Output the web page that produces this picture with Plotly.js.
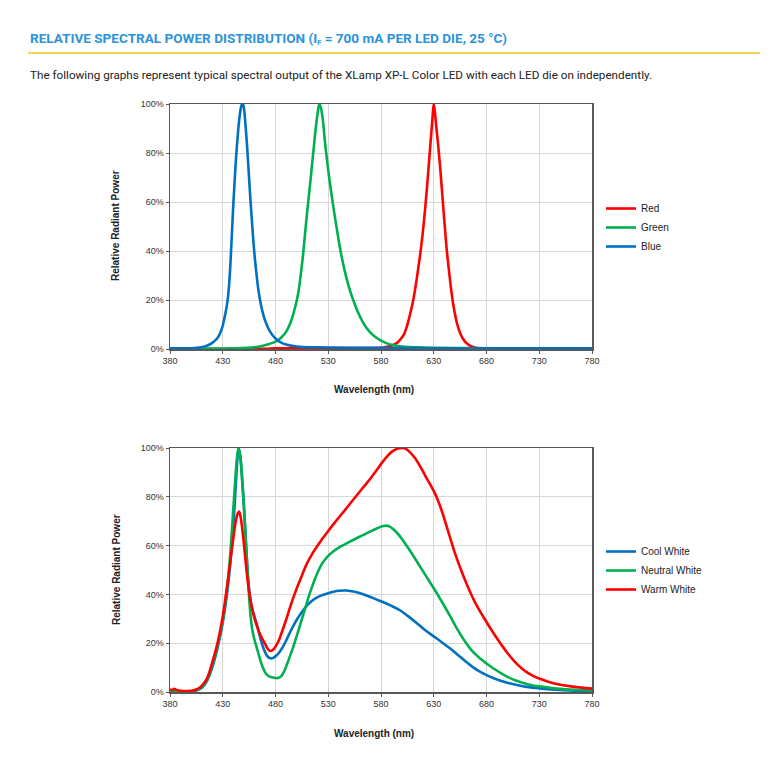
<!DOCTYPE html>
<html>
<head>
<meta charset="utf-8">
<script src="https://cdn.plot.ly/plotly-3.0.1.min.js"></script>
<style>
  html, body { margin: 0; padding: 0; background: #fff; }
  #wrap { position: relative; width: 771px; height: 760px; overflow: hidden; }
  #chart { position: absolute; left: 0; top: 0; width: 771px; height: 760px; }
  .hdr { position: absolute; white-space: nowrap; transform-origin: 0 0; }
  #title { left: 30px; top: 31px; font: bold 13px Roboto, "Liberation Sans", sans-serif; color: #2c93dc; }
  #title sub { font-size: 7px; vertical-align: -2px; }
  #rule { position: absolute; left: 28px; top: 52px; width: 732px; height: 2px; background: #f6d35b; }
  #intro { left: 30px; top: 69px; font: 11px Roboto, "Liberation Sans", sans-serif; color: #222; }
</style>
</head>
<body>
<div id="wrap">
  <div id="chart"></div>
  <div id="title" class="hdr">RELATIVE SPECTRAL POWER DISTRIBUTION (I<sub>F</sub> = 700 mA PER LED DIE, 25 °C)</div>
  <div id="rule"></div>
  <div id="intro" class="hdr">The following graphs represent typical spectral output of the XLamp XP-L Color LED with each LED die on independently.</div>
</div>
<script>
// ---------- Top chart: single colour dies (wavelength nm, relative power %) ----------
const redX   = [380, 470, 480, 560, 580, 585, 590, 593, 596, 599, 602, 604, 606, 608, 610, 612, 614, 616, 618, 620, 622, 624, 626, 628, 629, 630, 631, 632, 634, 636, 638, 640, 642, 644, 646, 648, 650, 652, 655, 658, 662, 666, 670, 680, 700, 780];
const redY   = [0, 0.1, 0.3, 0.4, 0.5, 0.8, 1.3, 2, 2.8, 4.3, 6.2, 8.5, 11.5, 15, 18.8, 23.5, 29, 35, 41.5, 49, 58, 68, 79, 90, 95.5, 100, 97, 92.5, 84, 74.5, 63.5, 52.5, 42, 33.5, 26, 19.5, 14.5, 10.5, 6.5, 4, 2, 1, 0.5, 0.2, 0.05, 0];

const greenX = [380, 440, 460, 470, 475, 480, 485, 490, 494, 497, 500, 502, 504, 506, 508, 510, 512, 514, 516, 518, 520, 521.5, 523, 525, 527, 529, 531, 533, 535, 537, 539, 541, 543, 545, 548, 551, 554, 558, 562, 566, 570, 575, 580, 585, 590, 600, 620, 650, 700, 780];
const greenY = [0.2, 0.3, 0.7, 1.5, 2.2, 3, 4.5, 7, 10.5, 14.5, 19.5, 24, 30.5, 38, 47, 56, 64, 72.5, 81, 89.5, 96.5, 100, 98.5, 93, 84, 76.5, 69.5, 63.5, 57.5, 52, 46.7, 41.5, 37, 33, 27.8, 23.3, 19.6, 15.2, 11.6, 8.8, 6.7, 4.8, 3.4, 2.4, 1.7, 1, 0.6, 0.4, 0.3, 0.2];

const blueX  = [380, 400, 410, 415, 420, 425, 428, 430, 432, 434, 436, 438, 440, 442, 444, 446, 448, 449, 450, 452, 454, 456, 458, 460, 462, 464, 466, 468, 470, 475, 480, 485, 490, 500, 520, 560, 600, 700, 780];
const blueY  = [0.3, 0.3, 0.7, 1.3, 2.5, 4.5, 7, 9.5, 13.5, 18, 26, 41, 59, 74, 86, 95, 99.7, 100, 98.5, 89, 76.5, 62.5, 50, 39, 30.5, 23.5, 18.5, 14.7, 11.8, 7, 4.3, 2.7, 1.8, 1, 0.7, 0.5, 0.4, 0.3, 0.3];

// ---------- Bottom chart: white LEDs ----------
const coolX  = [380, 395, 400, 405, 410, 415, 420, 425, 430, 434, 437, 440, 442, 443.5, 445, 446.5, 448, 450, 452, 454, 456, 458, 460, 463, 466, 469, 472, 475, 478, 481, 484, 487, 490, 495, 500, 505, 510, 515, 520, 525, 530, 535, 540, 547, 555, 563, 570, 580, 590, 598, 605, 614, 622, 630, 637, 645, 652, 660, 667, 675, 680, 690, 699, 710, 720, 730, 750, 780];
const coolY  = [0.1, 0.1, 0.2, 0.6, 1.6, 4.5, 10, 18, 28.5, 40, 52, 68, 82, 93, 100, 97, 90, 77, 61, 47, 38.5, 34, 31, 26.5, 21.5, 17.5, 14.8, 13.8, 14, 15, 16.5, 18.5, 21, 25.5, 29.5, 32.8, 35.5, 37.5, 38.9, 39.8, 40.5, 41.1, 41.5, 41.6, 41.1, 40.1, 38.9, 37.2, 35.3, 33.5, 31.3, 28.2, 25.3, 22.8, 20.6, 18, 15.5, 12.6, 10.2, 8, 6.9, 5.1, 3.9, 2.8, 2, 1.5, 0.8, 0.3];

const neutralX = [380, 400, 405, 410, 415, 420, 425, 430, 434, 437, 440, 442, 443.5, 445, 446.5, 448, 450, 452, 454, 456, 458, 460, 462, 465, 468, 471, 474, 478, 482, 485, 488, 491, 494, 497, 500, 503, 506, 509, 512, 515, 518, 521, 524, 527, 530, 535, 540, 547, 555, 563, 570, 577, 582, 585, 588, 592, 598, 605, 614, 622, 630, 637, 645, 652, 660, 667, 674, 680, 690, 699, 707, 715, 722, 730, 740, 750, 760, 770, 780];
const neutralY = [0.2, 0.3, 0.8, 2, 5, 11, 19, 29, 42, 56, 75, 88, 96, 100, 97, 89, 76, 61, 46, 33, 25.5, 21.5, 18.5, 14, 10, 7.5, 6.4, 5.9, 5.7, 6.3, 8.3, 11.5, 15, 18.7, 22.8, 27, 31.3, 35.5, 39.8, 43.5, 47, 50, 52.5, 54.3, 55.8, 57.7, 59.2, 60.8, 62.6, 64.3, 65.8, 67.2, 68, 68.2, 67.9, 66.6, 63.8, 59.5, 53.5, 48, 42.5, 37.5, 31.5, 26, 20.5, 16.5, 13.7, 11.7, 8.7, 6.4, 4.8, 3.7, 2.9, 2.3, 1.7, 1.3, 1, 0.8, 0.6];

const warmX  = [380, 382, 384, 386, 388, 390, 395, 400, 405, 410, 415, 420, 425, 430, 434, 437, 440, 442, 444, 445.5, 447, 449, 451, 453, 455, 457, 459, 462, 466, 470, 473, 475.5, 478, 480, 483, 486, 490, 494, 498, 502, 506, 510, 514, 518, 522, 526, 530, 535, 540, 547, 555, 563, 570, 576, 581, 586, 591, 596, 600, 604, 608, 612, 616, 620, 624, 628, 631, 634, 637, 640, 643, 646, 650, 655, 660, 665, 670, 675, 680, 685, 690, 695, 700, 705, 710, 715, 720, 725, 730, 740, 750, 760, 770, 780];
const warmY  = [1.2, 0.8, 1.3, 0.9, 0.6, 0.5, 0.4, 0.5, 1, 2.5, 5.5, 12, 20, 31, 43, 53, 63, 69, 73, 74, 71.5, 65, 56.5, 48, 41, 36, 32, 27.5, 23, 19.8, 17.5, 16.8, 17.4, 18.6, 21, 24.5, 29.5, 35, 40, 44.5, 48.8, 52.8, 56, 58.8, 61.3, 63.7, 66, 68.8, 71.5, 75.2, 79.5, 83.8, 87.5, 91, 94, 96.7, 98.7, 99.8, 100, 99.5, 98, 96, 93.3, 90.2, 87, 84, 81.5, 78.5, 75, 71, 66.8, 62.5, 57, 51, 45.5, 40.5, 36, 32.2, 28.7, 25.2, 21.9, 18.8, 15.9, 13.3, 11, 9.1, 7.6, 6.4, 5.5, 4, 3, 2.3, 1.8, 1.4];

const xTicks = [380, 430, 480, 530, 580, 630, 680, 730, 780];
const yTicks = [0, 20, 40, 60, 80, 100];
const yTickText = ["0%", "20%", "40%", "60%", "80%", "100%"];

const COL = { red: "#ff0000", green: "#00b050", blue: "#0070c0" };
const FONT = "Liberation Sans, Arial, sans-serif";

function tr(x, y, name, color, xa, ya, leg) {
  return { x: x, y: y, name: name, type: "scatter", mode: "lines",
           line: { color: color, width: 2.6, shape: "spline", smoothing: 1 },
           xaxis: xa, yaxis: ya, legend: leg, hoverinfo: "skip" };
}

const data = [
  tr(redX, redY, "Red", COL.red, "x", "y", "legend"),
  tr(greenX, greenY, "Green", COL.green, "x", "y", "legend"),
  tr(blueX, blueY, "Blue", COL.blue, "x", "y", "legend"),
  tr(coolX, coolY, "Cool White", COL.blue, "x2", "y2", "legend2"),
  tr(neutralX, neutralY, "Neutral White", COL.green, "x2", "y2", "legend2"),
  tr(warmX, warmY, "Warm White", COL.red, "x2", "y2", "legend2")
];

const W = 771, H = 760;
const px = v => v / W;
const py = v => 1 - v / H;

function xax(anchor) {
  return { domain: [px(170), px(592)], range: [380, 780], tickvals: xTicks, anchor: anchor,
           showgrid: true, gridcolor: "#d6d6d6", gridwidth: 1, zeroline: false,
           showline: true, mirror: true, linecolor: "#595959", linewidth: 1.5,
           ticks: "outside", ticklen: 3, tickcolor: "#595959",
           tickfont: { family: FONT, size: 9, color: "#333" }, fixedrange: true };
}
function yax(anchor, top, bottom) {
  return { domain: [py(bottom), py(top)], range: [0, 100], tickvals: yTicks, ticktext: yTickText, anchor: anchor,
           showgrid: true, gridcolor: "#d6d6d6", gridwidth: 1, zeroline: false,
           showline: true, mirror: true, linecolor: "#595959", linewidth: 1.5,
           ticks: "outside", ticklen: 3, tickcolor: "#595959",
           tickfont: { family: FONT, size: 9, color: "#333" }, fixedrange: true };
}

function ann(text, x, y, angle) {
  return { text: "<b>" + text + "</b>", x: px(x), y: py(y), xref: "paper", yref: "paper",
           showarrow: false, textangle: angle || 0, xanchor: "center", yanchor: "middle",
           font: { family: FONT, size: 10, color: "#222" } };
}

const legendBase = { xref: "paper", yref: "paper", xanchor: "left", yanchor: "top",
                     bgcolor: "rgba(0,0,0,0)", borderwidth: 0, itemwidth: 30,
                     font: { family: FONT, size: 10, color: "#222" }, tracegroupgap: 0 };

const layout = {
  width: W, height: H, margin: { l: 0, r: 0, t: 0, b: 0 },
  paper_bgcolor: "#fff", plot_bgcolor: "#fff", showlegend: true,
  xaxis: xax("y"), yaxis: yax("x", 104, 349),
  xaxis2: xax("y2"), yaxis2: yax("x2", 448, 692),
  legend: Object.assign({}, legendBase, { x: px(601), y: py(194) }),
  legend2: Object.assign({}, legendBase, { x: px(601), y: py(537) }),
  annotations: [
    ann("Relative Radiant Power", 116, 226, -90),
    ann("Wavelength (nm)", 374, 389),
    ann("Relative Radiant Power", 116, 570, -90),
    ann("Wavelength (nm)", 374, 733)
  ]
};

Plotly.newPlot("chart", data, layout, { staticPlot: true, displayModeBar: false });

// fit header texts to their widths in the reference
function fit(id, w) {
  const el = document.getElementById(id);
  const r = el.getBoundingClientRect().width;
  if (r > 0) el.style.transform = "scaleX(" + (w / r) + ")";
}
fit("title", 477);
fit("intro", 622);
</script>
</body>
</html>
